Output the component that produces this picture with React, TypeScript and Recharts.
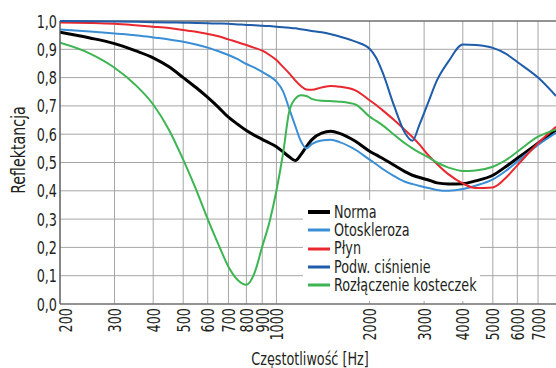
import React from 'react';
import { LineChart, Line, XAxis, YAxis, CartesianGrid, ReferenceLine } from 'recharts';

const freqs = [200, 250, 300, 350, 400, 450, 500, 550, 600, 650, 700, 750, 800, 850, 900, 950, 1000, 1050, 1100, 1150, 1200, 1250, 1300, 1400, 1500, 1600, 1800, 2000, 2100, 2200, 2400, 2600, 2750, 2900, 3100, 3300, 3600, 4000, 4400, 5000, 5500, 6000, 7000, 8000];

const norma = [0.96, 0.94, 0.92, 0.895, 0.87, 0.838, 0.80, 0.765, 0.73, 0.695, 0.66, 0.635, 0.613, 0.596, 0.582, 0.569, 0.556, 0.538, 0.52, 0.507, 0.528, 0.556, 0.58, 0.604, 0.61, 0.603, 0.575, 0.54, 0.527, 0.515, 0.49, 0.468, 0.455, 0.447, 0.438, 0.428, 0.424, 0.425, 0.435, 0.455, 0.485, 0.515, 0.568, 0.615];
const otoskleroza = [0.97, 0.963, 0.956, 0.95, 0.942, 0.935, 0.927, 0.917, 0.906, 0.893, 0.88, 0.865, 0.848, 0.835, 0.82, 0.805, 0.786, 0.752, 0.69, 0.63, 0.575, 0.55, 0.565, 0.578, 0.58, 0.572, 0.545, 0.51, 0.494, 0.478, 0.452, 0.432, 0.424, 0.417, 0.41, 0.403, 0.4, 0.406, 0.418, 0.44, 0.47, 0.503, 0.562, 0.605];
const plyn = [0.995, 0.993, 0.99, 0.985, 0.98, 0.975, 0.968, 0.962, 0.954, 0.946, 0.935, 0.925, 0.915, 0.905, 0.895, 0.88, 0.862, 0.838, 0.815, 0.79, 0.77, 0.758, 0.757, 0.765, 0.77, 0.768, 0.755, 0.72, 0.703, 0.685, 0.65, 0.615, 0.59, 0.563, 0.525, 0.495, 0.458, 0.426, 0.41, 0.412, 0.445, 0.49, 0.568, 0.626];
const podwCisnienie = [1.0, 0.999, 0.998, 0.997, 0.996, 0.995, 0.994, 0.993, 0.992, 0.991, 0.99, 0.988, 0.986, 0.985, 0.983, 0.982, 0.98, 0.978, 0.976, 0.974, 0.971, 0.968, 0.965, 0.96, 0.953, 0.945, 0.927, 0.902, 0.87, 0.82, 0.70, 0.605, 0.577, 0.635, 0.715, 0.79, 0.858, 0.917, 0.915, 0.905, 0.885, 0.855, 0.80, 0.735];
const rozlaczenie = [0.923, 0.885, 0.835, 0.775, 0.705, 0.615, 0.51, 0.405, 0.30, 0.21, 0.132, 0.085, 0.068, 0.11, 0.203, 0.29, 0.40, 0.53, 0.68, 0.725, 0.738, 0.735, 0.725, 0.718, 0.717, 0.715, 0.705, 0.662, 0.647, 0.632, 0.598, 0.568, 0.55, 0.535, 0.518, 0.50, 0.482, 0.47, 0.472, 0.485, 0.508, 0.538, 0.591, 0.617];

const xTicks = [200, 300, 400, 500, 600, 700, 800, 900, 1000, 2000, 3000, 4000, 5000, 6000, 7000];
const yTicks = [0, 0.1, 0.2, 0.3, 0.4, 0.5, 0.6, 0.7, 0.8, 0.9, 1.0];

const seriesNames = ['Norma', 'Otoskleroza', 'Płyn', 'Podw. ciśnienie', 'Rozłączenie kosteczek'];
const seriesKeys = ['norma', 'otoskleroza', 'plyn', 'podw', 'rozl'];
const seriesColors = ['#000000', '#3a8ed6', '#e8282e', '#1f5caa', '#3db552'];
const seriesWidths = [3, 2, 2, 2, 2];

const data = freqs.map((f, i) => ({
  f,
  norma: norma[i],
  otoskleroza: otoskleroza[i],
  plyn: plyn[i],
  podw: podwCisnienie[i],
  rozl: rozlaczenie[i],
}));

const FONT = '"DejaVu Sans Condensed", "Liberation Sans Narrow", sans-serif';
const TEXT = '#231f20';
const SX = 0.79;

const NText = ({ x, y, angle = 0, anchor = 'start', size = 18, children }: any) => (
  <text
    transform={`translate(${x} ${y}) rotate(${angle}) scale(${SX} 1)`}
    x={0}
    y={0}
    textAnchor={anchor}
    fontFamily={FONT}
    fontSize={size}
    fill={TEXT}
  >
    {children}
  </text>
);

const XTick = (props: any) => {
  const { x, payload, index } = props;
  const cx = x + 6.5 + (index === 0 ? 5 : 0);
  return (
    <NText x={cx} y={308} angle={-90} anchor="end">
      {payload.value}
    </NText>
  );
};

const YTick = (props: any) => {
  const { y, payload } = props;
  return (
    <NText x={57} y={y + 6.5} anchor="end">
      {Number(payload.value).toFixed(1).replace('.', ',')}
    </NText>
  );
};

const LegendBox = () => (
  <div
    style={{
      position: 'absolute',
      left: 303,
      top: 200,
      width: 177,
      height: 101,
      background: '#fff',
      boxSizing: 'border-box',
      paddingTop: 3,
      paddingLeft: 5,
    }}
  >
    {seriesNames.map((n, i) => (
      <div key={n} style={{ display: 'flex', alignItems: 'center', height: 18.3, whiteSpace: 'nowrap' }}>
        <svg width={26} height={10} style={{ flex: 'none' }}>
          <line x1={0} y1={5} x2={22} y2={5} stroke={seriesColors[i]} strokeWidth={i === 0 ? 4 : 3} />
        </svg>
        <span
          style={{
            display: 'inline-block',
            fontFamily: FONT,
            fontSize: 17,
            color: TEXT,
            lineHeight: '17px',
            transform: 'scaleX(0.835)',
            transformOrigin: 'left center',
          }}
        >
          {n}
        </span>
      </div>
    ))}
  </div>
);

export default function App() {
  return (
    <div style={{ position: 'absolute', left: 0, top: 0, width: 556, height: 368, background: '#fff' }}>
      <LineChart width={556} height={368} data={data} margin={{ top: 21, right: 0, bottom: 0, left: 0 }}>
        <CartesianGrid stroke="#a6a6a6" strokeWidth={1} verticalValues={xTicks} horizontalValues={yTicks} />
        <XAxis
          dataKey="f"
          type="number"
          scale="log"
          domain={[200, 8000]}
          ticks={xTicks}
          allowDataOverflow
          height={64}
          tickLine={false}
          axisLine={{ stroke: '#555', strokeWidth: 1.2 }}
          tick={<XTick />}
          interval={0}
          label={{
            content: () => (
              <NText x={310} y={365} anchor="middle" size={18}>
                Częstotliwość [Hz]
              </NText>
            ),
          }}
        />
        <YAxis
          type="number"
          domain={[0, 1]}
          ticks={yTicks}
          width={60}
          tickLine={false}
          axisLine={{ stroke: '#555', strokeWidth: 1.2 }}
          tick={<YTick />}
          interval={0}
          label={{
            content: () => (
              <NText x={25} y={150} angle={-90} anchor="middle" size={20}>
                Reflektancja
              </NText>
            ),
          }}
        />
        <ReferenceLine y={1} stroke="#555" strokeWidth={1.2} />
        {seriesKeys.map((k, i) => (
          <Line
            key={k}
            dataKey={k}
            name={seriesNames[i]}
            type="monotone"
            stroke={seriesColors[i]}
            strokeWidth={seriesWidths[i]}
            dot={false}
            activeDot={false}
            isAnimationActive={false}
          />
        ))}
      </LineChart>
      <LegendBox />
    </div>
  );
}
